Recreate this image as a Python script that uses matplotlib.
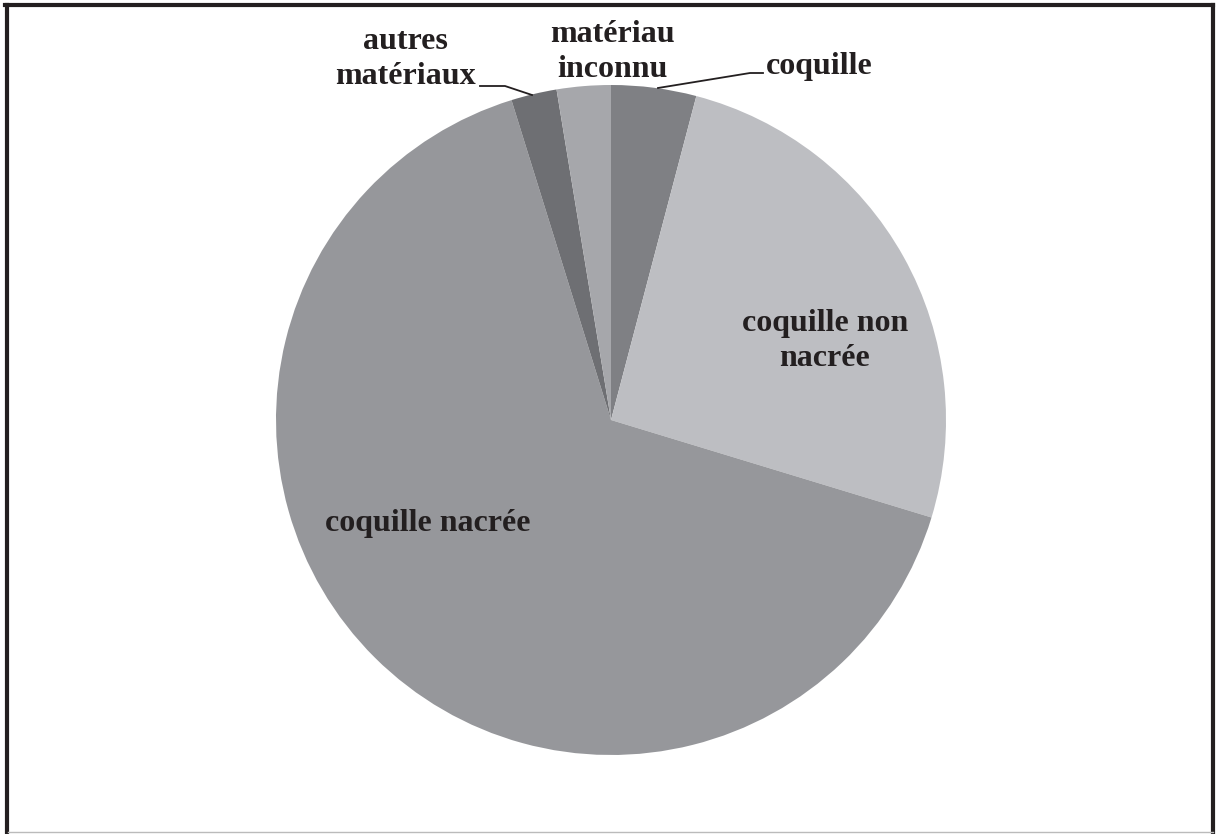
import matplotlib
matplotlib.use('Agg')
import matplotlib.pyplot as plt
from matplotlib.lines import Line2D

# slice data, clockwise from 12 o'clock
categories = ['coquille', 'coquille non nacrée', 'coquille nacrée',
              'autres matériaux', 'matériau inconnu']
shares = [4.1, 25.6, 65.5, 2.2, 2.6]
colors = ['#7f8084', '#bdbec2', '#96979b', '#6e6f73', '#a6a7ab']

W, H = 1217, 834
fig = plt.figure(figsize=(W / 100, H / 100), dpi=100)
ax = fig.add_axes([0, 0, 1, 1])

# pie in pixel-like data coordinates (y up)
cx, cy, r = 611, H - 420, 335
ax.pie(shares, colors=colors, startangle=90, counterclock=False,
       center=(cx, cy), radius=r, wedgeprops=dict(linewidth=0))
ax.set_xlim(0, W)
ax.set_ylim(0, H)
ax.set_aspect('auto')
ax.axis('off')

font = dict(family='Liberation Serif', fontweight='bold', fontsize=23,
            color='#231f20', ha='center', va='center', linespacing=1.3)

def y(p):
    return H - p

ax.text(819, y(66), 'coquille', **font)
ax.text(825, y(341), 'coquille non\nnacrée', **font)
ax.text(428, y(524), 'coquille nacrée', **font)
ax.text(405, y(59), 'autres\nmatériaux', **font)
ax.text(612, y(52), 'matériau\ninconnu', **font)

# leader lines
ax.plot([658, 750, 763], [y(88), y(73), y(73)], color='#231f20', lw=1.3)
ax.plot([480, 505, 532], [y(86), y(86), y(95)], color='#231f20', lw=1.3)

# outer frame
fig.add_artist(Line2D([6.5 / W, 6.5 / W], [0, 1 - 5 / H], transform=fig.transFigure,
                      color='#231f20', lw=3))
fig.add_artist(Line2D([5 / W, 1 - 4 / W], [1 - 5 / H, 1 - 5 / H],
                      transform=fig.transFigure, color='#231f20', lw=3))
fig.add_artist(Line2D([1 - 4 / W, 1 - 4 / W], [2 / H, 1 - 5 / H],
                      transform=fig.transFigure, color='#231f20', lw=3))
fig.add_artist(Line2D([8 / W, 1 - 4 / W], [2 / H, 2 / H],
                      transform=fig.transFigure, color='#bbbbbb', lw=1))

fig.savefig('out.png', dpi=100)
